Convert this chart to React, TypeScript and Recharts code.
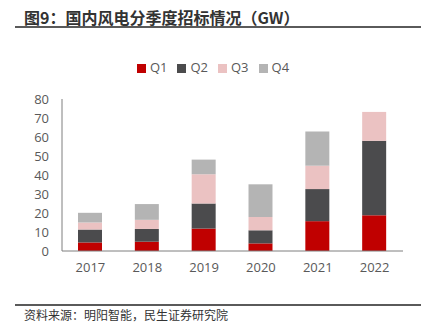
import { Bar, BarChart, Legend, XAxis, YAxis } from "recharts";

const years = ["2017", "2018", "2019", "2020", "2021", "2022"];
const q1 = [4.5, 4.9, 11.8, 4.0, 15.7, 18.8];
const q2 = [6.8, 6.7, 13.2, 6.9, 16.9, 39.2];
const q3 = [3.7, 4.8, 15.4, 7.0, 12.3, 15.2];
const q4 = [5.1, 8.3, 7.7, 17.2, 18.0, null];
const yTicks = [0, 10, 20, 30, 40, 50, 60, 70, 80];

const data = years.map((year, i) => ({
  year,
  Q1: q1[i],
  Q2: q2[i],
  Q3: q3[i],
  Q4: q4[i],
}));

const tickStyle = { fill: "#595959", fontSize: 13, fontFamily: "'Open Sans', sans-serif" };

function App() {
  return (
    <div
      style={{
        position: "absolute",
        top: 0,
        left: 0,
        width: 436,
        height: 333,
        background: "#fff",
        fontFamily: "'Noto Sans CJK SC', sans-serif",
      }}
    >
      <div
        style={{
          position: "absolute",
          left: 24,
          top: 6,
          fontSize: 16,
          fontWeight: "bold",
          color: "#333",
          lineHeight: "22px",
        }}
      >
        图9：国内风电分季度招标情况（GW）
      </div>
      <div style={{ position: "absolute", left: 15, top: 26, width: 406, height: 2, background: "#5a5a5a" }} />
      <BarChart
        width={436}
        height={333}
        data={data}
        margin={{ top: 99, right: 33, bottom: 52, left: 12 }}
        style={{ position: "absolute", top: 0, left: 0 }}
      >
        <XAxis
          dataKey="year"
          height={30}
          tickLine={false}
          tickSize={6}
          tickMargin={6}
          stroke="#7f7f7f"
          tick={tickStyle}
        />
        <YAxis
          width={50}
          domain={[0, 80]}
          ticks={yTicks}
          interval={0}
          tickLine={false}
          tickSize={6}
          tickMargin={7}
          stroke="#7f7f7f"
          tick={tickStyle}
        />
        <Legend
          verticalAlign="middle"
          align="center"
          layout="horizontal"
          iconType="square"
          iconSize={9}
          wrapperStyle={{ top: 58, left: 0, width: 436, fontSize: 13, fontFamily: "'Open Sans', sans-serif" }}
          formatter={(value) => <span style={{ color: "#595959" }}>{value}</span>}
        />
        <Bar dataKey="Q1" stackId="a" fill="#C00000" barSize={24} isAnimationActive={false} />
        <Bar dataKey="Q2" stackId="a" fill="#4B4B4D" barSize={24} isAnimationActive={false} />
        <Bar dataKey="Q3" stackId="a" fill="#EBC2C2" barSize={24} isAnimationActive={false} />
        <Bar dataKey="Q4" stackId="a" fill="#B4B4B4" barSize={24} isAnimationActive={false} />
      </BarChart>
      <div style={{ position: "absolute", left: 15, top: 304, width: 406, height: 2, background: "#5a5a5a" }} />
      <div
        style={{
          position: "absolute",
          left: 24,
          top: 307,
          fontSize: 12,
          color: "#333",
          lineHeight: "16px",
        }}
      >
        资料来源：明阳智能，民生证券研究院
      </div>
    </div>
  );
}

export default App;
